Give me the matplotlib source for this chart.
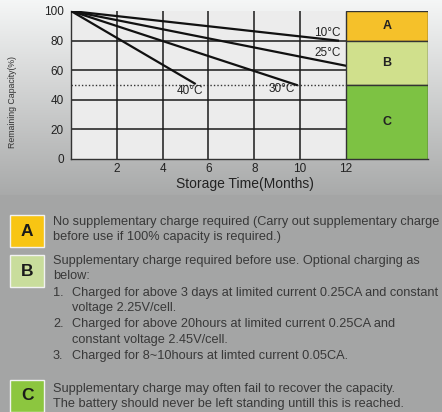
import numpy as np
import matplotlib
matplotlib.use("Agg")
from matplotlib import pyplot as plt
from matplotlib.patches import Rectangle

plt.rcParams['font.family'] = ['Liberation Sans', 'DejaVu Sans']

# storage curves: all start at 100% at month 0
temps = ['10°C', '25°C', '30°C', '40°C']
end_month = [11.65, 12.0, 9.85, 5.4]
end_cap = [80, 63, 50, 51]
label_pos = [(11.2, 85), (11.2, 71.5), (9.2, 47), (5.2, 46)]

# zones
zones = ['A', 'B', 'C']
zone_lo = [80, 50, 0]
zone_hi = [100, 80, 50]
zone_col = ['#f5c12a', '#d0e08c', '#7dc243']
legend_col = ['#f8c513', '#c9dd9c', '#8cc63f']

xticks = [2, 4, 6, 8, 10, 12]
yticks = [0, 20, 40, 60, 80, 100]

W, H = 442, 412
fig = plt.figure(figsize=(W / 100, H / 100), dpi=100)

# background gradient
bg = fig.add_axes([0, 0, 1, 1])
ys = np.arange(H)
g = np.where(ys < 195, 0.96 - (0.96 - 0.66) * ys / 195, 0.645)
img = np.stack([g, g + 0.005, g + 0.005], axis=-1)[:, None, :].repeat(2, axis=1)
bg.imshow(img, aspect='auto', extent=[0, 1, 0, 1], origin='upper')
bg.set_xlim(0, 1)
bg.set_ylim(0, 1)
bg.axis('off')

ax = fig.add_axes([71 / W, 1 - 159 / H, (428 - 71) / W, (159 - 11) / H])
ax.set_xlim(0, 15.58)
ax.set_ylim(0, 100)
ax.patch.set_alpha(0)
ax.add_patch(Rectangle((0, 0), 12, 100, facecolor='#ececec', edgecolor='none', zorder=0))

for x in xticks[:-1]:
    ax.plot([x, x], [0, 100], color='#1a1a1a', lw=1.1, zorder=1)
for y in yticks[1:-1]:
    ax.plot([0, 12], [y, y], color='#1a1a1a', lw=1.1, zorder=1)
ax.plot([0, 12], [50, 50], color='#333333', lw=1.0, ls=(0, (1, 1.5)), zorder=2)

for t, m, c, (lx, ly) in zip(temps, end_month, end_cap, label_pos):
    ax.plot([0, m], [100, c], color='#111111', lw=1.6, zorder=3)
    ax.text(lx, ly, t, fontsize=8.5, color='#222222', ha='center', va='center', zorder=4)

for z, lo, hi, col in zip(zones, zone_lo, zone_hi, zone_col):
    ax.add_patch(Rectangle((12, lo), 3.58, hi - lo, facecolor=col, edgecolor='#333333', lw=1.0, zorder=5))
    ax.text(13.79, (lo + hi) / 2, z, fontsize=9, fontweight='bold', color='#222222',
            ha='center', va='center', zorder=6)

ax.set_xticks(xticks)
ax.set_yticks(yticks)
ax.tick_params(length=0, labelsize=8.5, labelcolor='#222222')
ax.tick_params(axis='x', pad=3)
ax.tick_params(axis='y', pad=5)
for s in ['top', 'right']:
    ax.spines[s].set_visible(False)
for s in ['left', 'bottom']:
    ax.spines[s].set_color('#333333')
    ax.spines[s].set_linewidth(1.0)

fig.text(245 / W, 1 - 184 / H, 'Storage Time(Months)', fontsize=10, color='#222222',
         ha='center', va='center')
fig.text(13 / W, 1 - 102 / H, 'Remaining Capacity(%)', fontsize=6.3, color='#333333',
         ha='center', va='center', rotation=90)

# legend block
tc = '#383838'
fs = 9.2
boxes = [(215, 'A', legend_col[0]), (255, 'B', legend_col[1]), (380, 'C', legend_col[2])]
for top, z, col in boxes:
    fig.patches.append(Rectangle((10 / W, 1 - (top + 32) / H), 34 / W, 32 / H,
                                 transform=fig.transFigure, facecolor=col,
                                 edgecolor='#f2f2f2', lw=1.0))
    fig.text(27 / W, 1 - (top + 16) / H, z, fontsize=12.5, fontweight='bold',
             color='#1a1a1a', ha='center', va='center')

lines = [
    (53, 222, 'No supplementary charge required (Carry out supplementary charge'),
    (53, 237, 'before use if 100% capacity is required.)'),
    (53, 261, 'Supplementary charge required before use. Optional charging as'),
    (53, 276, 'below:'),
    (53, 293, '1.'),
    (72, 293, 'Charged for above 3 days at limited current 0.25CA and constant'),
    (72, 308, 'voltage 2.25V/cell.'),
    (53, 324, '2.'),
    (72, 324, 'Charged for above 20hours at limited current 0.25CA and'),
    (72, 340, 'constant voltage 2.45V/cell.'),
    (53, 356, '3.'),
    (72, 356, 'Charged for 8~10hours at limted current 0.05CA.'),
    (53, 389, 'Supplementary charge may often fail to recover the capacity.'),
    (53, 404, 'The battery should never be left standing untill this is reached.'),
]
for x, y, s in lines:
    fig.text(x / W, 1 - y / H, s, fontsize=fs, color=tc, ha='left', va='center')

fig.savefig('out.png', dpi=100)
